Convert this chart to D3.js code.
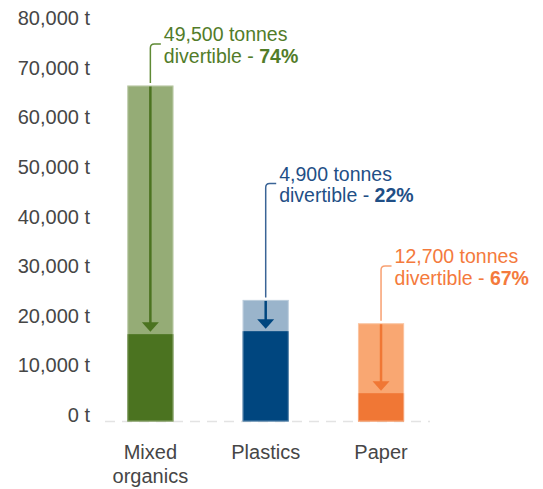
<!DOCTYPE html>
<html>
<head>
<meta charset="utf-8">
<script src="https://cdn.jsdelivr.net/npm/d3@7"></script>
<style>
  html, body { margin: 0; padding: 0; background: #fff; }
  svg { display: block; font-family: "Liberation Sans", Arial, sans-serif; }
</style>
</head>
<body>
<svg id="chart" width="543" height="489"></svg>
<script>
// ---- data ----
const categories = ["Mixed organics", "Plastics", "Paper"];
const categoryLines = [["Mixed", "organics"], ["Plastics"], ["Paper"]];
const totalTonnes = [67700, 24500, 19800];
const remainingTonnes = [17600, 18200, 5700];
const divertibleTonnes = ["49,500", "4,900", "12,700"];
const divertiblePct = ["74%", "22%", "67%"];
const yTicks = [0, 10000, 20000, 30000, 40000, 50000, 60000, 70000, 80000];

// ---- styles ----
const darkColors = ["#4b7320", "#00467f", "#f07735"];
const lightColors = ["#95ac76", "#9ab4cb", "#f9a772"];
const textColors = ["#527c29", "#1f4f86", "#f47a3c"];
const leaderColors = ["#5f8a35", "#3a6496", "#f8a071"];

const svg = d3.select("#chart");
const y = d3.scaleLinear().domain([0, 80000]).range([421.5, 24.5]);
const x = d3.scaleBand().domain(categories).range([92.7, 438.7])
  .paddingInner(0.6).paddingOuter(0.3);

// y axis labels
const yAxis = d3.axisLeft(y).tickValues(yTicks).tickSize(0).tickPadding(0)
  .tickFormat(d => d3.format(",")(d) + " t");
const gy = svg.append("g").attr("transform", "translate(90,0)").call(yAxis);
gy.select(".domain").remove();
gy.selectAll("text").attr("dy", 0).attr("font-size", 20)
  .attr("fill", "#464646").attr("font-family", "Liberation Sans, Arial, sans-serif");

// baseline
svg.append("line").attr("x1", 105).attr("x2", 430)
  .attr("y1", y(0)).attr("y2", y(0))
  .attr("stroke", "#e3e3e3").attr("stroke-width", 1.5)
  .attr("stroke-dasharray", "10,7");

// bars
const idx = categories.map((c, i) => i);
const g = svg.append("g");
g.selectAll("rect.total").data(idx).join("rect").attr("class", "total")
  .attr("x", i => x(categories[i])).attr("width", x.bandwidth())
  .attr("y", i => y(totalTonnes[i])).attr("height", i => y(0) - y(totalTonnes[i]))
  .attr("fill", i => lightColors[i]);
g.selectAll("rect.rem").data(idx).join("rect").attr("class", "rem")
  .attr("x", i => x(categories[i])).attr("width", x.bandwidth())
  .attr("y", i => y(remainingTonnes[i])).attr("height", i => y(0) - y(remainingTonnes[i]))
  .attr("fill", i => darkColors[i]);
// light outline
g.selectAll("rect.outline").data(idx).join("rect").attr("class", "outline")
  .attr("x", i => x(categories[i]) + 0.5).attr("width", x.bandwidth() - 1)
  .attr("y", i => y(totalTonnes[i]) + 0.5).attr("height", i => y(0) - y(totalTonnes[i]) - 1)
  .attr("fill", "none").attr("stroke", "#fff").attr("stroke-opacity", 0.35);

// arrows inside bars
idx.forEach(i => {
  const cx = x(categories[i]) + x.bandwidth() / 2;
  const top = y(totalTonnes[i]);
  const tip = y(remainingTonnes[i]) - 2.5;
  const headH = 9.5, headW = 8.5;
  g.append("line").attr("x1", cx).attr("x2", cx)
    .attr("y1", top + 1).attr("y2", tip - headH + 1)
    .attr("stroke", darkColors[i]).attr("stroke-width", 2.5);
  g.append("path")
    .attr("d", `M${cx - headW},${tip - headH}L${cx + headW},${tip - headH}L${cx},${tip}Z`)
    .attr("fill", darkColors[i]);
});

// leaders and annotation text
const cornerY = [44, 183.5, 266];
idx.forEach(i => {
  const cx = x(categories[i]) + x.bandwidth() / 2;
  const top = y(totalTonnes[i]) - 2.5;
  const cy = cornerY[i];
  const r = 4;
  svg.append("path")
    .attr("d", `M${cx},${top}L${cx},${cy + r}Q${cx},${cy} ${cx + r},${cy}L${cx + 10.5},${cy}`)
    .attr("fill", "none").attr("stroke", leaderColors[i]).attr("stroke-width", 1.5);
  const t = svg.append("text").attr("x", cx + 13.5).attr("font-size", 19.5)
    .attr("fill", textColors[i]);
  t.append("tspan").attr("x", cx + 13.5).attr("y", cy - 3)
    .text(divertibleTonnes[i] + " tonnes");
  const l2 = t.append("tspan").attr("x", cx + 13.5).attr("y", cy + 18.5);
  l2.append("tspan").text("divertible - ");
  l2.append("tspan").attr("font-weight", "bold").text(divertiblePct[i]);
});

// category labels
idx.forEach(i => {
  const cx = x(categories[i]) + x.bandwidth() / 2;
  const t = svg.append("text").attr("text-anchor", "middle")
    .attr("font-size", 20).attr("fill", "#464646");
  categoryLines[i].forEach((line, k) => {
    t.append("tspan").attr("x", cx).attr("y", 459 + k * 23.5).text(line);
  });
});
</script>
</body>
</html>
